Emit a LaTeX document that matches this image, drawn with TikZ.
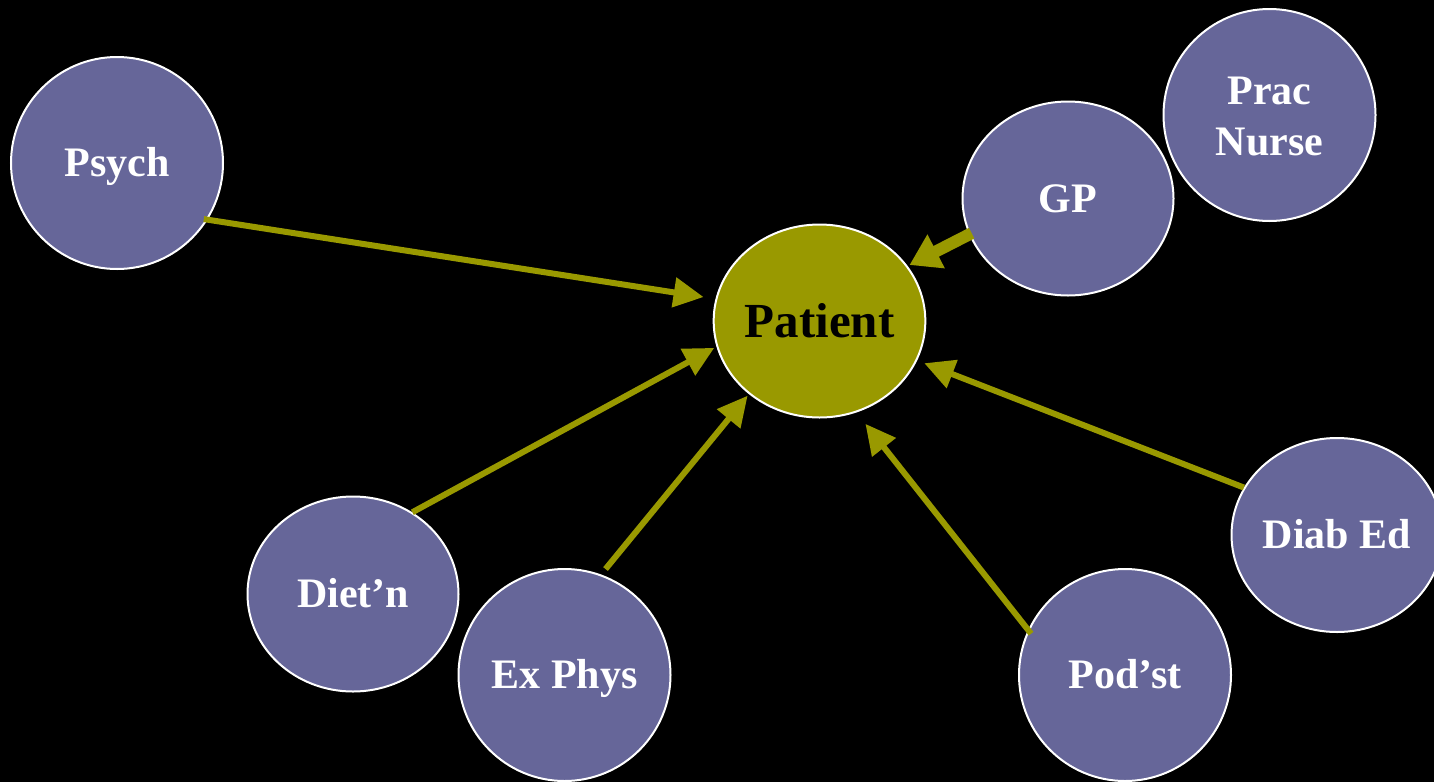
\documentclass[tikz,border=0pt]{standalone}
\usepackage{fontspec}
\setmainfont{Liberation Serif}
\usetikzlibrary{shapes.geometric,arrows.meta}
\definecolor{satfill}{HTML}{666699}
\definecolor{olivec}{HTML}{999900}
\begin{document}
\begin{tikzpicture}[x=1pt,y=-1pt,
  sat/.style={ellipse, draw=white, line width=2pt, fill=satfill, inner sep=0pt,
    text=white, font=\fontsize{42}{51}\bfseries\selectfont,
    text height=27.8pt, text depth=0pt},
  lbl/.style={anchor=base, inner sep=0pt, text=white, font=\fontsize{42}{51}\bfseries\selectfont},
  hub/.style={ellipse, draw=white, line width=2pt, fill=olivec, inner sep=0pt,
    text=black, font=\fontsize{49}{58}\bfseries\selectfont,
    text height=32.4pt, text depth=0pt},
  conn/.style={draw=olivec, line width=6pt, -{Triangle[length=30pt,width=29pt]}},
  bigconn/.style={draw=olivec, line width=12pt, -{Triangle[length=30pt,width=36pt]}}
]
\fill[black] (0,0) rectangle (1434,782);
\useasboundingbox (0,0) rectangle (1434,782);
\clip (0,0) rectangle (1434,782);

\node[hub, minimum width=210pt, minimum height=193pt] (patient) at (819.5,321) {Patient};
\node[sat, minimum width=211pt, minimum height=194pt] (gp) at (1068,198.5) {GP};
\node[sat, minimum width=212pt, minimum height=212pt] (prac) at (1269.5,115) {};
\node[lbl] (pracA) at ([yshift=11pt]prac.center) {Prac};
\node[lbl] (pracB) at ([yshift=-40pt]prac.center) {Nurse};
\node[sat, minimum width=212pt, minimum height=212pt] (psych) at (117,163) {Psych};
\node[sat, minimum width=211pt, minimum height=195pt] (dietn) at (353,594) {Diet’n};
\node[sat, minimum width=212pt, minimum height=212pt] (exphys) at (564.5,675) {Ex Phys};
\node[sat, minimum width=212pt, minimum height=212pt] (podst) at (1125,675) {Pod’st};
\node[sat, minimum width=211pt, minimum height=194pt] (diabed) at (1337,535) {Diab Ed};

\draw[conn, shorten <=-4pt, shorten >=12pt] (psych.-32.6) -- (patient.168.2);
\draw[conn, shorten >=2.5pt] (dietn.54.3) -- (patient.-166.5);
\draw[conn, shorten <=7pt, shorten >=2pt] (exphys.70.2) -- (patient.-134.8);
\draw[conn, shorten <=-5pt, shorten >=14.5pt] (podst.155) -- (patient.-68.9);
\draw[conn, shorten >=7.6pt] (diabed.153.9) -- (patient.-22.1);
\draw[bigconn, shorten <=-3pt, shorten >=2pt] (gp.-160.2) -- (patient.32.3);
\end{tikzpicture}
\end{document}
